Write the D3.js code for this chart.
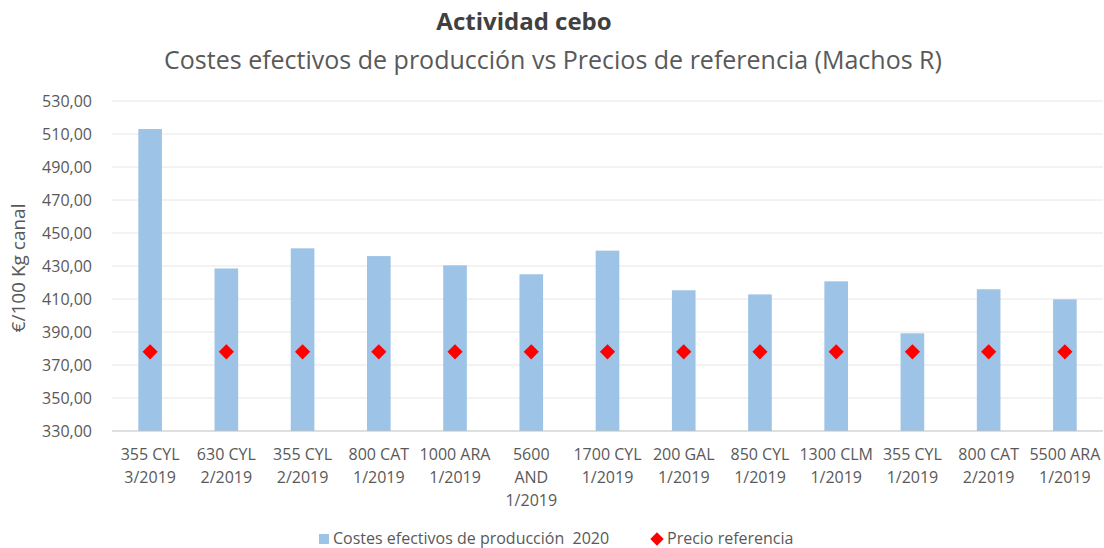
<!DOCTYPE html>
<html>
<head>
<meta charset="utf-8">
<script src="https://cdn.jsdelivr.net/npm/d3@7"></script>
<style>
  body { margin: 0; background: #fff; }
  text { font-family: "Open Sans", sans-serif; }
</style>
</head>
<body>
<div id="chart"></div>
<script>
// categories (each label split in lines as in the original)
const categories = [
    ["355 CYL", "3/2019"], ["630 CYL", "2/2019"], ["355 CYL", "2/2019"], ["800 CAT", "1/2019"],
    ["1000 ARA", "1/2019"], ["5600", "AND", "1/2019"], ["1700 CYL", "1/2019"], ["200 GAL", "1/2019"],
    ["850 CYL", "1/2019"], ["1300 CLM", "1/2019"], ["355 CYL", "1/2019"], ["800 CAT", "2/2019"],
    ["5500 ARA", "1/2019"]
];
const costes = [513.0, 428.5, 440.7, 436.0, 430.4, 425.0, 439.3, 415.3, 412.8, 420.7, 389.2, 415.9, 409.8];
const precioRef = [378, 378, 378, 378, 378, 378, 378, 378, 378, 378, 378, 378, 378];
const yTicks = [330, 350, 370, 390, 410, 430, 450, 470, 490, 510, 530];

const W = 1104, H = 548;
const margin = {top: 101, right: 1, bottom: 117, left: 112};
const width = W - margin.left - margin.right;
const height = H - margin.top - margin.bottom;

const svg = d3.select("#chart").append("svg")
    .attr("width", W).attr("height", H);

// titles
svg.append("text")
    .attr("x", 524).attr("y", 30)
    .attr("text-anchor", "middle")
    .style("font-size", "24px").style("font-weight", "bold").style("fill", "#404040")
    .text("Actividad cebo");
svg.append("text")
    .attr("x", 553).attr("y", 69)
    .attr("text-anchor", "middle")
    .style("font-size", "25px").style("fill", "#595959")
    .text("Costes efectivos de producción vs Precios de referencia (Machos R)");

const g = svg.append("g").attr("transform", `translate(${margin.left},${margin.top})`);

const x = d3.scaleBand().domain(d3.range(categories.length)).range([0, width])
    .paddingInner(0.69).paddingOuter(0.345);
const y = d3.scaleLinear().domain([330, 530]).range([height, 0]);

// gridlines
g.selectAll(".grid").data(yTicks.slice(1)).enter().append("line")
    .attr("x1", 0).attr("x2", width)
    .attr("y1", d => y(d)).attr("y2", d => y(d))
    .attr("stroke", "#e6e6e6").attr("stroke-width", 1);

// y axis labels
const yAxis = g.append("g").call(d3.axisLeft(y).tickValues(yTicks).tickSize(0).tickPadding(20)
    .tickFormat(d => d3.format(".2f")(d).replace(".", ",")));
yAxis.select(".domain").remove();
yAxis.selectAll("text").style("font-size", "16px").style("fill", "#595959").style("font-family", "Open Sans");

// bars
g.selectAll(".bar").data(costes).enter().append("rect")
    .attr("class", "bar")
    .attr("x", (d, i) => x(i))
    .attr("y", d => y(d))
    .attr("width", x.bandwidth())
    .attr("height", d => height - y(d))
    .attr("fill", "#9dc3e6");

// x axis line
g.append("line")
    .attr("x1", 0).attr("x2", width)
    .attr("y1", height).attr("y2", height)
    .attr("stroke", "#bfbfbf").attr("stroke-width", 1);

// x labels
const xl = g.selectAll(".xlab").data(categories).enter().append("text")
    .attr("class", "xlab")
    .attr("text-anchor", "middle")
    .attr("transform", (d, i) => `translate(${x(i) + x.bandwidth() / 2},${height + 29})`)
    .style("font-size", "16px").style("fill", "#595959");
xl.selectAll("tspan").data(d => d).enter().append("tspan")
    .attr("x", 0).attr("dy", (d, i) => i === 0 ? 0 : 23)
    .text(d => d);

// diamonds
g.selectAll(".ref").data(precioRef).enter().append("path")
    .attr("class", "ref")
    .attr("d", d3.symbol().type(d3.symbolSquare).size(115))
    .attr("transform", (d, i) => `translate(${x(i) + x.bandwidth() / 2},${y(d)}) rotate(45)`)
    .attr("fill", "#ff0000");

// y axis title
svg.append("text")
    .attr("transform", "translate(25,268) rotate(-90)")
    .attr("text-anchor", "middle")
    .style("font-size", "19px").style("fill", "#595959")
    .text("€/100 Kg canal");

// legend
const leg = svg.append("g");
leg.append("rect").attr("x", 319).attr("y", 534).attr("width", 10).attr("height", 10).attr("fill", "#9dc3e6");
leg.append("text").attr("x", 333).attr("y", 544)
    .style("font-size", "16px").style("fill", "#595959")
    .text("Costes efectivos de producción  2020").attr("xml:space", "preserve");
leg.append("path")
    .attr("d", d3.symbol().type(d3.symbolSquare).size(90))
    .attr("transform", "translate(657,539) rotate(45)")
    .attr("fill", "#ff0000");
leg.append("text").attr("x", 667).attr("y", 544)
    .style("font-size", "16px").style("fill", "#595959")
    .text("Precio referencia");
</script>
</body>
</html>
